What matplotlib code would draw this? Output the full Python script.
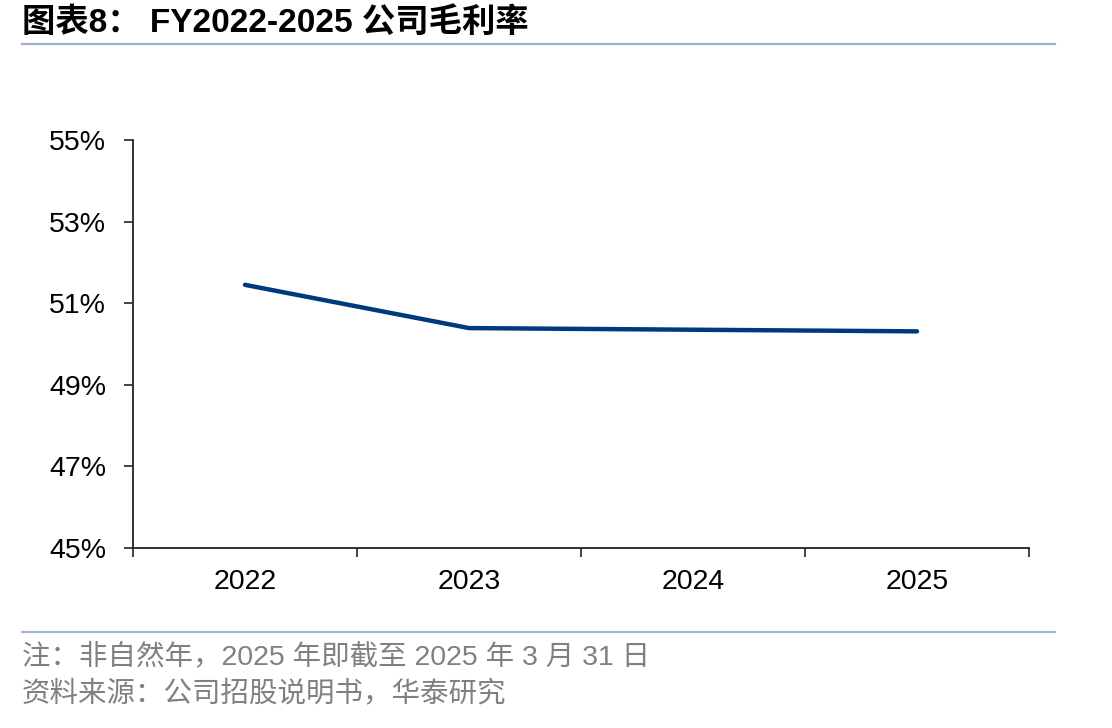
import matplotlib
matplotlib.use("Agg")
import matplotlib.pyplot as plt
from matplotlib.ticker import FixedLocator, FuncFormatter

years = ["2022", "2023", "2024", "2025"]
gross_margin = [51.45, 50.39, 50.35, 50.31]
y_ticks = [45, 47, 49, 51, 53, 55]

title = "图表8： FY2022-2025 公司毛利率"
note = "注：非自然年，2025 年即截至 2025 年 3 月 31 日"
source = "资料来源：公司招股说明书，华泰研究"

fonts = ["Liberation Sans", "Noto Sans CJK SC", "DejaVu Sans"]
plt.rcParams["font.family"] = fonts

fig = plt.figure(figsize=(11.12, 7.28), dpi=100)
ax = fig.add_axes([133 / 1112, 1 - 548 / 728, (1029 - 133) / 1112, (548 - 140) / 728])

x = list(range(len(years)))
ax.plot(x, gross_margin, color="#003A7D", linewidth=3.2, solid_capstyle="round")

ax.set_xlim(-0.5, len(years) - 0.5)
ax.set_ylim(45, 55)
ax.set_yticks(y_ticks)
ax.yaxis.set_major_formatter(FuncFormatter(lambda v, p: f"{v:.0f}%"))
ax.set_xticks(x)
ax.set_xticklabels(years)
ax.xaxis.set_minor_locator(FixedLocator([i - 0.5 for i in range(len(years) + 1)]))

ax.tick_params(axis="x", which="major", length=0, pad=15, labelsize=20.5)
ax.tick_params(axis="x", which="minor", length=6.5, width=1.2, direction="out", color="#222222")
ax.tick_params(axis="y", length=6.5, width=1.2, direction="out", pad=13, labelsize=20.5, color="#222222")

for side in ["top", "right"]:
    ax.spines[side].set_visible(False)
for side in ["left", "bottom"]:
    ax.spines[side].set_color("#222222")
    ax.spines[side].set_linewidth(1.3)

fig.text(22 / 1112, 1 - 23 / 728, title, fontsize=24, fontweight="bold",
         va="center", ha="left", color="black")
fig.add_artist(plt.Line2D([22 / 1112, 1055 / 1112], [1 - 44 / 728, 1 - 44 / 728],
                          color="#A2B4CB", linewidth=1.6))
fig.add_artist(plt.Line2D([22 / 1112, 1055 / 1112], [1 - 632 / 728, 1 - 632 / 728],
                          color="#A2B4CB", linewidth=1.6))
fig.text(22 / 1112, 1 - 657 / 728, note, fontsize=20.5, color="#808080", va="center", ha="left")
fig.text(22 / 1112, 1 - 695 / 728, source, fontsize=20.5, color="#808080", va="center", ha="left")

fig.savefig("out.png", dpi=100)
